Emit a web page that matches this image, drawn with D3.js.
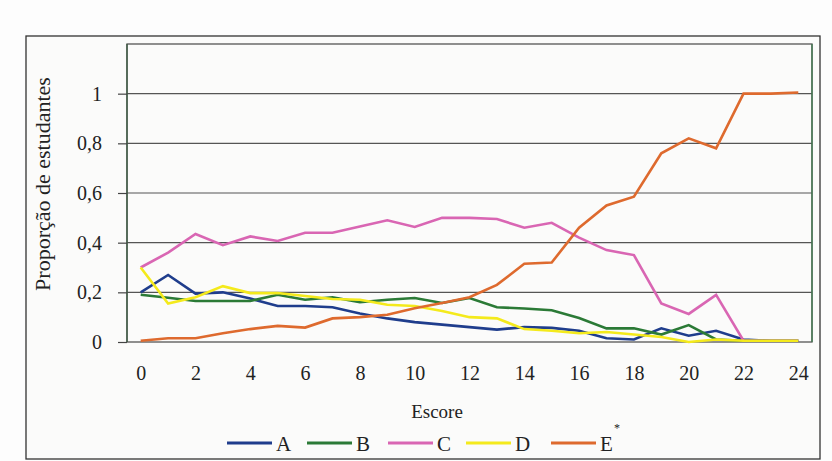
<!DOCTYPE html>
<html>
<head>
<meta charset="utf-8">
<script src="https://cdnjs.cloudflare.com/ajax/libs/d3/7.8.5/d3.min.js"></script>
<style>
  body { margin: 0; background: #fdfdfd; }
  svg text { font-family: "Times New Roman", "Liberation Serif", "DejaVu Serif", "Noto Serif", serif !important; fill: #222; }
</style>
</head>
<body>
<div id="chart"></div>
<script>
// data
var scores = d3.range(0, 25);
var serieA = [0.20, 0.27, 0.195, 0.20, 0.175, 0.145, 0.145, 0.14, 0.115, 0.095, 0.08, 0.07, 0.06, 0.05, 0.06, 0.057, 0.045, 0.015, 0.01, 0.055, 0.025, 0.045, 0.01, 0.005, 0.005];
var serieB = [0.19, 0.178, 0.165, 0.165, 0.165, 0.19, 0.17, 0.18, 0.16, 0.17, 0.177, 0.157, 0.177, 0.14, 0.135, 0.128, 0.097, 0.055, 0.055, 0.03, 0.068, 0.01, 0.005, 0.005, 0.005];
var serieC = [0.30, 0.36, 0.435, 0.39, 0.425, 0.407, 0.44, 0.44, 0.465, 0.49, 0.463, 0.50, 0.50, 0.495, 0.46, 0.48, 0.42, 0.37, 0.35, 0.155, 0.113, 0.19, 0.005, 0.005, 0.005];
var serieD = [0.30, 0.155, 0.18, 0.225, 0.197, 0.197, 0.185, 0.173, 0.17, 0.15, 0.145, 0.125, 0.10, 0.095, 0.052, 0.045, 0.035, 0.04, 0.03, 0.02, 0.0, 0.01, 0.005, 0.005, 0.005];
var serieE = [0.005, 0.015, 0.015, 0.035, 0.052, 0.065, 0.058, 0.095, 0.10, 0.11, 0.136, 0.157, 0.18, 0.23, 0.315, 0.32, 0.46, 0.55, 0.585, 0.76, 0.82, 0.78, 1.0, 1.0, 1.005];
var seriesNames = ["A", "B", "C", "D", "E"];
var seriesColors = ["#1f3d8c", "#2b7a36", "#d966b3", "#f4ea1c", "#de6a2e"];
var yTicks = [0, 0.2, 0.4, 0.6, 0.8, 1];
var xTicks = [0, 2, 4, 6, 8, 10, 12, 14, 16, 18, 20, 22, 24];

var allSeries = [serieA, serieB, serieC, serieD, serieE];

var svgWidth = 832, svgHeight = 461;
var margin = {top: 44, right: 20, bottom: 119, left: 127};
var chartWidth = svgWidth - margin.left - margin.right;   // 685
var chartHeight = svgHeight - margin.top - margin.bottom; // 298

var svg = d3.select("#chart").append("svg")
  .attr("width", svgWidth)
  .attr("height", svgHeight);

// outer frame
svg.append("rect")
  .attr("x", 26).attr("y", 36)
  .attr("width", 794).attr("height", 423)
  .attr("fill", "#fbfbfa")
  .attr("stroke", "#333").attr("stroke-width", 1.3);

var chartGroup = svg.append("g")
  .attr("transform", `translate(${margin.left}, ${margin.top})`);

var xScale = d3.scaleLinear().domain([-0.5, 24.5]).range([0, chartWidth]);
var yScale = d3.scaleLinear().domain([0, 1.2]).range([chartHeight, 0]);

// gridlines
chartGroup.selectAll("line.grid")
  .data(yTicks.slice(1))
  .enter().append("line")
  .attr("class", "grid")
  .attr("x1", 0).attr("x2", chartWidth)
  .attr("y1", d => yScale(d)).attr("y2", d => yScale(d))
  .attr("stroke", "#555").attr("stroke-width", 1.2);

// plot border
chartGroup.append("rect")
  .attr("width", chartWidth).attr("height", chartHeight)
  .attr("fill", "none").attr("stroke", "#555").attr("stroke-width", 1.3);
chartGroup.append("line")
  .attr("x1", chartWidth).attr("x2", chartWidth).attr("y1", 0).attr("y2", chartHeight)
  .attr("stroke", "#3f7a4f").attr("stroke-width", 1.3);
chartGroup.append("line")
  .attr("x1", 0).attr("x2", 0).attr("y1", 0).attr("y2", chartHeight)
  .attr("stroke", "#3a5a40").attr("stroke-width", 1.3);

// y axis
var yAxis = d3.axisLeft(yScale)
  .tickValues(yTicks)
  .tickSize(9)
  .tickPadding(16)
  .tickFormat(d => d === 0 ? "0" : d === 1 ? "1" : d3.format(".1f")(d).replace(".", ","));
var yG = chartGroup.append("g").call(yAxis).attr("font-family", null);
yG.select(".domain").remove();
yG.selectAll("line").attr("stroke", "#444").attr("stroke-width", 1.2);
yG.selectAll("text").style("font-size", "20px").attr("fill", "#222");

// x axis (labels only)
var xAxis = d3.axisBottom(xScale)
  .tickValues(xTicks)
  .tickSize(0)
  .tickPadding(24);
var xG = chartGroup.append("g")
  .attr("transform", `translate(0, ${chartHeight})`)
  .call(xAxis).attr("font-family", null);
xG.select(".domain").remove();
xG.selectAll("text").style("font-size", "20px").attr("fill", "#222");

// axis titles
svg.append("text")
  .attr("x", 437).attr("y", 418)
  .style("text-anchor", "middle")
  .style("font-size", "19px")
  .text("Escore");

svg.append("text")
  .attr("transform", "rotate(-90)")
  .attr("x", -184).attr("y", 50)
  .style("text-anchor", "middle")
  .style("font-size", "22px")
  .text("Proporção de estudantes");

// lines
var line = d3.line()
  .x((d, i) => xScale(scores[i]))
  .y(d => yScale(d));

chartGroup.selectAll("path.serie")
  .data(allSeries)
  .enter().append("path")
  .attr("class", "serie")
  .attr("d", d => line(d))
  .attr("fill", "none")
  .attr("stroke", (d, i) => seriesColors[i])
  .attr("stroke-width", 2.6)
  .attr("stroke-linejoin", "miter");

// legend
var legendX = [227, 307, 388, 466, 551];
var legend = svg.selectAll("g.legend")
  .data(seriesNames)
  .enter().append("g")
  .attr("class", "legend")
  .attr("transform", (d, i) => `translate(${legendX[i]}, 443)`);

legend.append("line")
  .attr("x1", 0).attr("x2", 45)
  .attr("stroke", (d, i) => seriesColors[i])
  .attr("stroke-width", 3);

legend.append("text")
  .attr("x", 49).attr("y", 8)
  .style("font-size", "21px")
  .text(d => d);

svg.append("text")
  .attr("x", 614).attr("y", 432)
  .style("font-size", "12px")
  .text("*");
</script>
</body>
</html>
